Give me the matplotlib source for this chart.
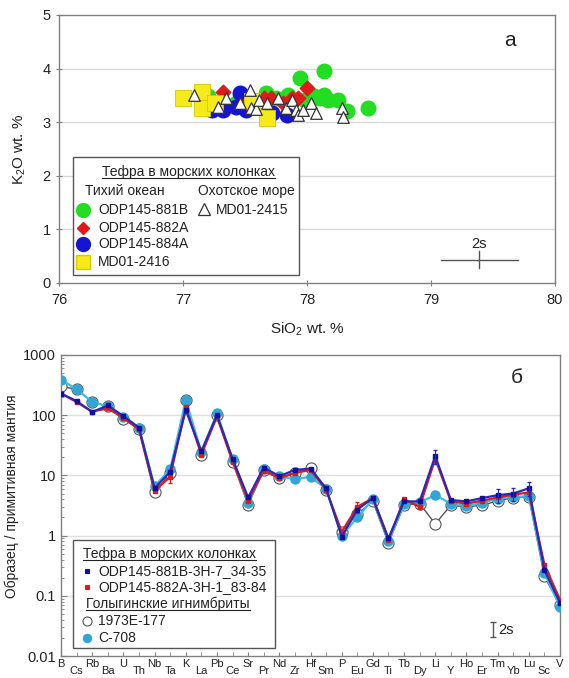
import matplotlib
matplotlib.use("Agg")
import matplotlib.pyplot as plt
from matplotlib.lines import Line2D
from matplotlib.patches import Rectangle
import numpy as np

plt.rcParams['font.family'] = ['Liberation Sans', 'DejaVu Sans']
plt.rcParams['mathtext.fontset'] = 'custom'
plt.rcParams['mathtext.rm'] = 'Liberation Sans'
plt.rcParams['mathtext.it'] = 'Liberation Sans:italic'

W, H = 569, 678

# ---------------- Panel a data (SiO2, K2O) ----------------
s881B_x = [77.94, 78.14, 78.49, 78.32, 78.25, 78.17, 78.14, 78.06, 77.98, 77.85, 77.67, 77.43, 77.20, 77.75, 78.10]
s881B_y = [3.82, 3.96, 3.26, 3.20, 3.42, 3.42, 3.51, 3.48, 3.42, 3.51, 3.54, 3.35, 3.48, 3.45, 3.45]
s882A_x = [78.00, 77.32, 77.20, 77.65, 77.71, 77.88, 77.93, 77.52, 77.81]
s882A_y = [3.63, 3.57, 3.42, 3.45, 3.45, 3.45, 3.45, 3.35, 3.35]
s884A_x = [77.23, 77.32, 77.46, 77.51, 77.72, 77.84, 77.43]
s884A_y = [3.23, 3.23, 3.54, 3.23, 3.17, 3.14, 3.29]
md2416_x = [77.00, 77.15, 77.15, 77.26, 77.68, 77.56]
md2416_y = [3.45, 3.57, 3.26, 3.35, 3.07, 3.40]
md2415_x = [77.09, 77.28, 77.35, 77.54, 77.46, 77.55, 77.59, 77.61, 77.68, 77.77, 77.83,
            77.88, 77.91, 77.93, 77.97, 78.03, 78.07, 78.28, 78.29]
md2415_y = [3.51, 3.28, 3.45, 3.60, 3.35, 3.26, 3.24, 3.42, 3.35, 3.45, 3.26,
            3.42, 3.23, 3.14, 3.23, 3.35, 3.17, 3.26, 3.10]

# ---------------- Panel b data (spider diagram) ----------------
elements = ['B', 'Cs', 'Rb', 'Ba', 'U', 'Th', 'Nb', 'Ta', 'K', 'La', 'Pb', 'Ce', 'Sr', 'Pr', 'Nd', 'Zr', 'Hf',
            'Sm', 'P', 'Eu', 'Gd', 'Ti', 'Tb', 'Dy', 'Li', 'Y', 'Ho', 'Er', 'Tm', 'Yb', 'Lu', 'Sc', 'V']
odp881B = [229, 172, 113, 145, 97, 62, 6.1, 11.5, 122, 25, 100, 19, 4.3, 13.5, 9.7, 12.3, 13,
           6.1, 0.96, 2.7, 4.2, 0.9, 3.7, 3.7, 21, 3.9, 3.7, 4.2, 4.7, 5.0, 6.1, 0.27, 0.076]
odp882A = [230, 165, 115, 130, 90, 58, 5.5, 9.5, 135, 22, 95, 17, 3.8, 12, 9.0, 11, 12.3,
           5.8, 1.16, 3.0, 4.2, 0.85, 4.0, 3.0, 19, 3.7, 3.4, 3.8, 4.3, 4.8, 5.2, 0.33, 0.086]
e1973 = [300, 270, 166, 140, 85, 60, 5.2, 10.8, 177, 22, 100, 17, 3.2, 12.3, 8.9, 10.8, 13.5,
         5.7, 1.16, 2.3, 3.7, 0.75, 3.2, 3.4, 1.56, 3.2, 3.0, 3.2, 3.76, 4.26, 4.4, 0.21, 0.07]
c708 = [390, 270, 166, 140, 94, 62, 6.6, 12.6, 177, 24.7, 107, 18.4, 3.5, 13, 9.7, 8.6, 9.5,
        6.0, 1.0, 2.0, 4.0, 0.8, 3.35, 3.6, 4.7, 3.4, 3.1, 3.5, 4.1, 4.4, 4.5, 0.24, 0.066]

fig = plt.figure(figsize=(W / 100, H / 100), dpi=100)


def P(x, y):
    return x / W, 1 - y / H


# ================= Panel a =================
axa = fig.add_axes([59 / W, 1 - 283 / H, (555 - 59) / W, (283 - 15) / H])
axa.set_xlim(76, 80)
axa.set_ylim(0, 5)
axa.set_xticks([76, 77, 78, 79, 80])
axa.set_yticks([0, 1, 2, 3, 4, 5])
for yv in [1, 2, 3, 4]:
    axa.axhline(yv, color='#d9d9d9', lw=1.0, zorder=0)
for sp in axa.spines.values():
    sp.set_color('#808080')
    sp.set_linewidth(1.0)
axa.tick_params(axis='both', labelsize=10.5, colors='#808080', labelcolor='#222222', direction='inout', length=5)
axa.tick_params(axis='x', pad=5)
axa.set_xlabel('SiO$_2$ wt. %', fontsize=11, color='#222222')
axa.xaxis.set_label_coords(0.5, -0.14)
axa.set_ylabel('K$_2$O wt. %', fontsize=11, color='#222222')
axa.yaxis.set_label_coords(-0.062, 0.5)

axa.scatter(s881B_x, s881B_y, s=110, marker='o', color='#22dd22', edgecolors='#22dd22', zorder=3)
axa.scatter(s884A_x, s884A_y, s=110, marker='o', color='#1414d2', edgecolors='#1414d2', zorder=3)
axa.scatter(s882A_x, s882A_y, s=55, marker='D', color='#e01a1a', edgecolors='#e01a1a', zorder=4)
axa.scatter(md2416_x, md2416_y, s=120, marker='s', color='#f5eb1a', edgecolors='#d8c800', linewidths=0.6, zorder=5)
axa.scatter(md2415_x, md2415_y, s=70, marker='^', facecolors='white', edgecolors='#333333', linewidths=0.9, zorder=6)

# 2s error cross
axa.plot([79.08, 79.70], [0.43, 0.43], color='#555555', lw=1.0)
axa.plot([79.39, 79.39], [0.28, 0.59], color='#555555', lw=1.0)
axa.text(79.39, 0.72, '2s', fontsize=10.5, ha='center', va='center', color='#222222')
axa.text(79.64, 4.53, 'а', fontsize=15, ha='center', va='center', color='#222222')

# Legend a (manual)
fig.add_artist(Rectangle(P(73, 275), (299 - 73) / W, (275 - 157) / H, transform=fig.transFigure,
                         facecolor='white', edgecolor='#555555', lw=1.0, zorder=5))
t_title_a = fig.text(*P(188, 172), 'Тефра в морских колонках', fontsize=10, ha='center', va='center',
                     color='#222222', zorder=6)
fig.text(*P(85, 191), 'Тихий океан', fontsize=10, ha='left', va='center', color='#222222', zorder=6)
fig.text(*P(198, 191), 'Охотское море', fontsize=10, ha='left', va='center', color='#222222', zorder=6)
leg_a = [
    (210, 'o', '#22dd22', '#22dd22', 10, 'ODP145-881B'),
    (228, 'D', '#e01a1a', '#e01a1a', 6.5, 'ODP145-882A'),
    (244, 'o', '#1414d2', '#1414d2', 10, 'ODP145-884A'),
    (262, 's', '#f5eb1a', '#d8c800', 10, 'MD01-2416'),
]
for yy, mk, fc, ec, ms, lab in leg_a:
    fig.add_artist(Line2D([83 / W], [1 - yy / H], transform=fig.transFigure, marker=mk, ms=ms,
                          mfc=fc, mec=ec, ls='none', zorder=6))
    fig.text(*P(98, yy), lab, fontsize=10, ha='left', va='center', color='#222222', zorder=6)
fig.add_artist(Line2D([204 / W], [1 - 209 / H], transform=fig.transFigure, marker='^', ms=8,
                      mfc='white', mec='#333333', mew=0.9, ls='none', zorder=6))
fig.text(*P(216, 210), 'MD01-2415', fontsize=10, ha='left', va='center', color='#222222', zorder=6)

# ================= Panel b =================
axb = fig.add_axes([61 / W, 1 - 656 / H, (560 - 61) / W, (656 - 355) / H])
xi = np.arange(len(elements))
axb.set_yscale('log')
axb.set_ylim(0.01, 1000)
axb.set_xlim(0, len(elements) - 1)
for yv in [0.1, 1, 10, 100]:
    axb.axhline(yv, color='#e0e0e0', lw=1.0, zorder=0)
for sp in axb.spines.values():
    sp.set_color('#808080')
    sp.set_linewidth(1.0)
axb.set_yticks([0.01, 0.1, 1, 10, 100, 1000])
axb.set_yticklabels(['0.01', '0.1', '1', '10', '100', '1000'])
axb.tick_params(axis='y', which='major', labelsize=10.5, colors='#808080', labelcolor='#222222',
                direction='in', length=4)
axb.tick_params(axis='y', which='minor', colors='#808080', direction='in', length=2)

axb.set_xticks(xi[0::2])
axb.set_xticklabels(elements[0::2])
axb.set_xticks(xi[1::2], minor=True)
axb.set_xticklabels(elements[1::2], minor=True)
axb.tick_params(axis='x', which='major', labelsize=8, colors='#808080', labelcolor='#222222',
                direction='in', length=3, pad=2)
axb.tick_params(axis='x', which='minor', labelsize=8, colors='#808080', labelcolor='#222222',
                direction='in', length=3, pad=7.5)
axb.set_ylabel('Образец / примитивная мантия', fontsize=10, color='#222222')
axb.yaxis.set_label_coords(-0.084, 0.53)

axb.plot(xi, e1973, color='#555555', lw=1.0, marker='o', ms=8, mfc='white', mec='#555555', mew=0.8, zorder=2)
axb.plot(xi, c708, color='#3cc0ea', lw=1.6, marker='o', ms=6.5, mfc='#2fa6d6', mec='#2fa6d6', zorder=3)
axb.plot(xi, odp882A, color='#e01a1a', lw=1.6, marker='s', ms=3.5, mfc='#e01a1a', mec='#e01a1a', zorder=4)
axb.plot(xi, odp881B, color='#2a2ab8', lw=1.6, marker='s', ms=3, mfc='#1010a0', mec='#1010a0', zorder=5)

# small error bars
err_idx_r = [7, 19]
axb.errorbar(xi[err_idx_r], np.array(odp882A)[err_idx_r],
             yerr=[np.array(odp882A)[err_idx_r] * 0.2, np.array(odp882A)[err_idx_r] * 0.2],
             fmt='none', ecolor='#e01a1a', elinewidth=0.8, capsize=1.5, zorder=4)
err_idx_b = [24, 28, 29, 30]
axb.errorbar(xi[err_idx_b], np.array(odp881B)[err_idx_b],
             yerr=[np.array(odp881B)[err_idx_b] * 0.25, np.array(odp881B)[err_idx_b] * 0.25],
             fmt='none', ecolor='#2a2ab8', elinewidth=0.8, capsize=1.5, zorder=5)

# 2s bar
axb.errorbar([27.7], [0.0275], yerr=[[0.0275 - 0.0205], [0.0365 - 0.0275]], fmt='none',
             ecolor='#555555', elinewidth=1.0, capsize=2)
axb.text(28.05, 0.027, '2s', fontsize=10.5, ha='left', va='center', color='#222222')
axb.text(29.2, 420, 'б', fontsize=15, ha='center', va='center', color='#222222')

# Legend b (manual)
fig.add_artist(Rectangle(P(73, 648), (275 - 73) / W, (648 - 540) / H, transform=fig.transFigure,
                         facecolor='white', edgecolor='#555555', lw=1.0, zorder=5))
t_title_b1 = fig.text(*P(83, 554), 'Тефра в морских колонках', fontsize=10, ha='left', va='center',
                      color='#222222', zorder=6)
t_title_b2 = fig.text(*P(86, 604), 'Голыгинские игнимбриты', fontsize=10, ha='left', va='center',
                      color='#222222', zorder=6)
leg_b = [
    (571, 's', '#1010a0', '#1010a0', 3, 'ODP145-881B-3H-7_34-35'),
    (587, 's', '#e01a1a', '#e01a1a', 3.5, 'ODP145-882A-3H-1_83-84'),
    (621, 'o', 'white', '#555555', 6.5, '1973E-177'),
    (638, 'o', '#2fa6d6', '#2fa6d6', 6, 'C-708'),
]
for yy, mk, fc, ec, ms, lab in leg_b:
    fig.add_artist(Line2D([87 / W], [1 - yy / H], transform=fig.transFigure, marker=mk, ms=ms,
                          mfc=fc, mec=ec, mew=0.8, ls='none', zorder=6))
    fig.text(*P(98, yy), lab, fontsize=10, ha='left', va='center', color='#222222', zorder=6)

# underline titles
fig.canvas.draw()
r = fig.canvas.get_renderer()
for t in [t_title_a, t_title_b1, t_title_b2]:
    bb = t.get_window_extent(renderer=r)
    ybase = bb.y0 + 1
    fig.add_artist(Line2D([bb.x0 / W, bb.x1 / W], [ybase / H, ybase / H], transform=fig.transFigure,
                          color='#222222', lw=0.8, zorder=6))

fig.savefig('out.png', dpi=100)
